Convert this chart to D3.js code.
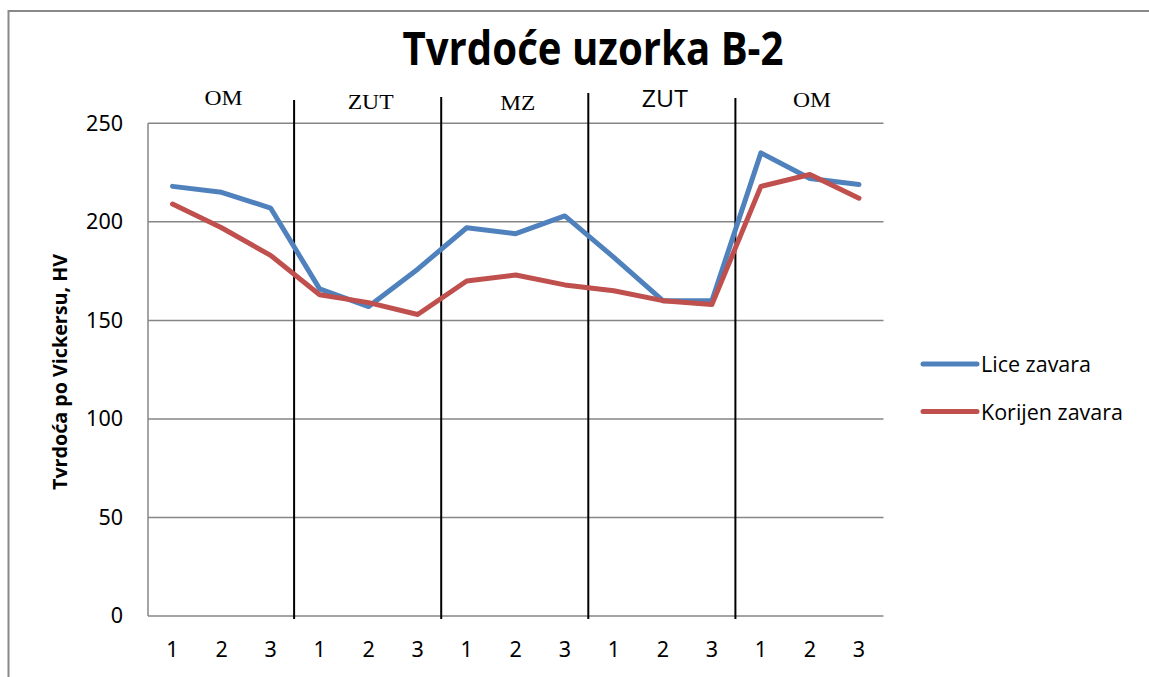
<!DOCTYPE html>
<html>
<head>
<meta charset="utf-8">
<script src="https://cdn.jsdelivr.net/npm/d3@7"></script>
<style>
  html, body { margin: 0; padding: 0; background: #fff; }
  svg { display: block; }
</style>
</head>
<body>
<svg id="chart" width="1149" height="677"></svg>
<script>
// Measurement points: three per zone, five zones across the weld
const categories = ["1","2","3","1","2","3","1","2","3","1","2","3","1","2","3"];
const zones = ["OM", "ZUT", "MZ", "ZUT", "OM"];
const liceZavara = [218, 215, 207, 166, 157, 176, 197, 194, 203, 182, 160, 160, 235, 222, 219];
const korijenZavara = [209, 197, 183, 163, 159, 153, 170, 173, 168, 165, 160, 158, 218, 224, 212];
const yTicks = [0, 50, 100, 150, 200, 250];
const seriesNames = ["Lice zavara", "Korijen zavara"];
const seriesColors = ["#4F81BD", "#C0504D"];

const svg = d3.select("#chart");
const plot = { left: 148, right: 883.5, top: 123.3, bottom: 616 };

const x = d3.scaleBand()
  .domain(d3.range(categories.length))
  .range([plot.left, plot.right]);
const y = d3.scaleLinear().domain([0, 250]).range([plot.bottom, plot.top]);

// outer frame of the chart object
svg.append("path")
  .attr("d", `M8.5,677 L8.5,11 L1149,11`)
  .attr("fill", "none").attr("stroke", "#898989").attr("stroke-width", 2);

// title
svg.append("text")
  .attr("x", 593).attr("y", 65)
  .attr("text-anchor", "middle")
  .attr("font-family", "'Open Sans', sans-serif")
  .attr("font-weight", "bold")
  .attr("font-size", 47)
  .attr("textLength", 381).attr("lengthAdjust", "spacingAndGlyphs")
  .text("Tvrdoće uzorka B-2");

// horizontal gridlines
svg.append("g")
  .selectAll("line")
  .data(yTicks)
  .join("line")
  .attr("x1", plot.left).attr("x2", plot.right)
  .attr("y1", d => y(d)).attr("y2", d => y(d))
  .attr("stroke", "#868686").attr("stroke-width", 1.5);

// value axis line
svg.append("line")
  .attr("x1", plot.left).attr("x2", plot.left)
  .attr("y1", plot.top).attr("y2", plot.bottom)
  .attr("stroke", "#868686").attr("stroke-width", 1.5);

// y axis labels
const yAxis = d3.axisLeft(y).tickValues(yTicks).tickSize(0).tickPadding(25);
const gy = svg.append("g").attr("transform", `translate(${plot.left},0)`).call(yAxis);
gy.select(".domain").remove();
gy.selectAll("text")
  .attr("font-family", "'Noto Sans', sans-serif")
  .attr("font-size", 21.5)
  .attr("fill", "#000");

// x axis labels
const xAxis = d3.axisBottom(x).tickFormat(i => categories[i]).tickSize(0).tickPadding(26);
const gx = svg.append("g").attr("transform", `translate(0,${plot.bottom})`).call(xAxis);
gx.select(".domain").remove();
gx.selectAll("text")
  .attr("font-family", "'Noto Sans', sans-serif")
  .attr("font-size", 21.5)
  .attr("fill", "#000");

// y axis title
svg.append("text")
  .attr("transform", `translate(67,372) rotate(-90)`)
  .attr("text-anchor", "middle")
  .attr("font-family", "'Open Sans', sans-serif")
  .attr("font-weight", "bold")
  .attr("font-size", 19.5)
  .attr("textLength", 236).attr("lengthAdjust", "spacingAndGlyphs")
  .text("Tvrdoća po Vickersu, HV");

// zone separators at the band boundaries
const sepTops = [100, 97, 93, 98];
const separators = [3, 6, 9, 12];
svg.append("g")
  .selectAll("line")
  .data(separators)
  .join("line")
  .attr("x1", d => x(d) - 1).attr("x2", d => x(d) - 1)
  .attr("y1", (d, i) => sepTops[i]).attr("y2", 619)
  .attr("stroke", "#000").attr("stroke-width", 2);

// zone labels
const zoneStyle = [
  { serif: true, size: 22, base: 105 },
  { serif: true, size: 22, base: 109 },
  { serif: true, size: 22, base: 110 },
  { serif: false, size: 23.5, base: 107 },
  { serif: true, size: 22, base: 107 }
];
svg.append("g")
  .selectAll("text")
  .data(zones)
  .join("text")
  .attr("x", (d, i) => x(i * 3 + 1) + x.bandwidth() / 2 + 2)
  .attr("y", (d, i) => zoneStyle[i].base)
  .attr("text-anchor", "middle")
  .attr("font-family", (d, i) => zoneStyle[i].serif ? "'Liberation Serif', serif" : "'Open Sans', sans-serif")
  .attr("font-size", (d, i) => zoneStyle[i].size)
  .attr("textLength", (d, i) => zoneStyle[i].serif ? (d === "OM" ? 38 : d === "MZ" ? 35 : 46) : 46)
  .attr("lengthAdjust", "spacingAndGlyphs")
  .text(d => d);

// series lines
const line = d3.line()
  .x((d, i) => x(i) + x.bandwidth() / 2)
  .y(d => y(d));
const series = [liceZavara, korijenZavara];
svg.append("g")
  .selectAll("path")
  .data(series)
  .join("path")
  .attr("d", d => line(d))
  .attr("fill", "none")
  .attr("stroke", (d, i) => seriesColors[i])
  .attr("stroke-width", 5)
  .attr("stroke-linejoin", "round")
  .attr("stroke-linecap", "round");

// legend
const legend = svg.append("g")
  .selectAll("g")
  .data(seriesNames)
  .join("g")
  .attr("transform", (d, i) => `translate(0,${364 + i * 47.5})`);
legend.append("line")
  .attr("x1", 923).attr("x2", 977)
  .attr("y1", 0).attr("y2", 0)
  .attr("stroke", (d, i) => seriesColors[i])
  .attr("stroke-width", 5)
  .attr("stroke-linecap", "round");
legend.append("text")
  .attr("x", 981).attr("y", 8)
  .attr("font-family", "'Open Sans', sans-serif")
  .attr("font-size", 21.5)
  .attr("fill", "#000")
  .text(d => d);
</script>
</body>
</html>
